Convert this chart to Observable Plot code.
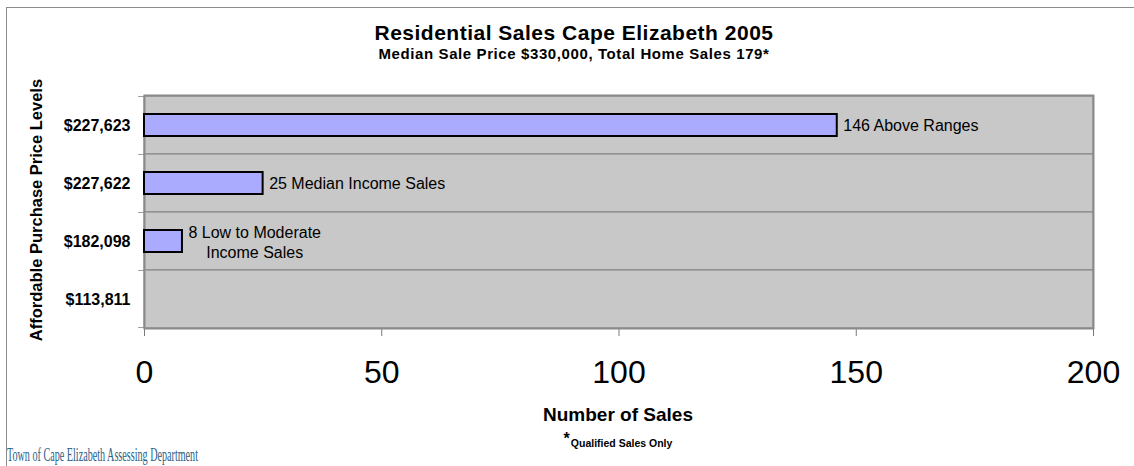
<!DOCTYPE html>
<html>
<head>
<meta charset="utf-8">
<script src="https://cdn.jsdelivr.net/npm/d3@7"></script>
<script src="https://cdn.jsdelivr.net/npm/@observablehq/plot@0.6"></script>
<style>
  body { margin: 0; background: #fff; font-family: "Liberation Sans", Arial, sans-serif; }
  #wrap { position: relative; width: 1134px; height: 466px; overflow: hidden; }
  #wrap svg { position: absolute; left: 0; top: 0; }
  #border { position: absolute; left: 6px; top: 7px; width: 1200px; height: 500px;
            border-left: 1.5px solid #8c8c8c; border-top: 1.5px solid #8c8c8c; box-sizing: border-box; }
  .t { position: absolute; white-space: nowrap; color: #000; line-height: 1; }
  #title { top: 22px; left: 0; width: 1148px; text-align: center; font-size: 21px; font-weight: bold; letter-spacing: 0.5px; }
  #subtitle { top: 45.5px; left: 0; width: 1148px; text-align: center; font-size: 15px; font-weight: bold; letter-spacing: 0.6px; }
  #ytitle { left: 36px; top: 210px; font-size: 16.5px; font-weight: bold;
            transform: translate(-50%, -50%) rotate(-90deg); }
  #xtitle { top: 405px; left: 0; width: 1236px; text-align: center; font-size: 19px; font-weight: bold; }
  #note { top: 434px; left: 0; width: 1236px; text-align: center; font-size: 10.5px; font-weight: bold; }
  #note .star { font-size: 16px; position: relative; top: -3px; margin-right: 1px; }
  #footer { left: 7px; top: 446px; font-family: "Liberation Serif", "Times New Roman", serif;
            font-size: 18px; color: #2c5f88; transform-origin: 0 0; }
  #wrap g[aria-label^="y-axis"] text { font-size: 16px; font-weight: bold; fill: #000; }
  #wrap g[aria-label^="x-axis"] text { font-size: 32px; fill: #000; }
  #wrap g[aria-label^="x-axis"] line, #wrap g[aria-label^="x-axis"] path { stroke: #7a7a7a; }
</style>
</head>
<body>
<div id="wrap">
  <div id="border"></div>
  <div class="t" id="title">Residential Sales Cape Elizabeth 2005</div>
  <div class="t" id="subtitle">Median Sale Price $330,000, Total Home Sales 179*</div>
  <div class="t" id="ytitle">Affordable Purchase Price Levels</div>
  <div class="t" id="xtitle">Number of Sales</div>
  <div class="t" id="note"><span class="star">*</span>Qualified Sales Only</div>
  <div class="t" id="footer">Town of Cape Elizabeth Assessing Department</div>
</div>
<script>
// Affordable purchase price levels, top to bottom
const priceLevels = ["$227,623", "$227,622", "$182,098", "$113,811"];
// Number of qualified sales at each level
const sales = [146, 25, 8, 0];
// Annotation beside each bar
const barLabels = ["146 Above Ranges", "25 Median Income Sales", "8 Low to Moderate\nIncome Sales", ""];
// Sales axis ticks
const xTicks = [0, 50, 100, 150, 200];

const rows = priceLevels.map((level, i) => ({level, sales: sales[i], label: barLabels[i]}));

const W = 1134, H = 466;
const margin = {top: 95, right: 41, bottom: 138, left: 144};
const band = (H - margin.top - margin.bottom) / priceLevels.length;
const xMax = xTicks[xTicks.length - 1];
const labelFont = 16;

// width of the widest line of a multi-line label, to center it beside its bar
const ctx = document.createElement("canvas").getContext("2d");
ctx.font = `${labelFont}px "Liberation Sans", Arial, sans-serif`;
const widest = s => d3.max(s.split("\n"), line => ctx.measureText(line).width);

const single = rows.filter(d => d.label && !d.label.includes("\n"));
const multi = rows.filter(d => d.label && d.label.includes("\n"));

const chart = Plot.plot({
  width: W,
  height: H,
  marginTop: margin.top,
  marginRight: margin.right,
  marginBottom: margin.bottom,
  marginLeft: margin.left,
  style: {background: "transparent", fontFamily: "'Liberation Sans', Arial, sans-serif", color: "#000"},
  x: {domain: [0, xMax], ticks: xTicks, tickFormat: d3.format("d"), tickSize: 8, tickPadding: 24, label: null},
  y: {domain: priceLevels, padding: 0, tickSize: 0, tickPadding: 14, label: null},
  marks: [
    // gray plot area, one band per price level, outlined to form the gridlines
    Plot.barX(priceLevels, {x1: 0, x2: xMax, y: d => d, fill: "#c8c8c8", stroke: "#808080", strokeWidth: 1}),
    // short ticks left of the axis at each band boundary
    Plot.barX(priceLevels, {x1: -1.25, x2: 0, y: d => d, insetBottom: band - 1, fill: "#808080"}),
    Plot.barX(priceLevels.slice(-1), {x1: -1.25, x2: 0, y: d => d, insetTop: band - 1, fill: "#808080"}),
    Plot.frame({stroke: "#8a8a8a", strokeWidth: 2}),
    // sales bars
    Plot.barX(rows.filter(d => d.sales > 0), {
      x: "sales", y: "level", fill: "#aaaaff", stroke: "#000", strokeWidth: 2,
      insetTop: 18, insetBottom: 18
    }),
    Plot.text(single, {
      x: "sales", y: "level", text: "label", textAnchor: "start", dx: 6,
      fontSize: labelFont, fill: "#000"
    }),
    Plot.text(multi, {
      x: "sales", y: "level", text: "label", textAnchor: "middle",
      dx: 6 + widest(multi.length ? multi[0].label : "") / 2, lineHeight: 1.25,
      fontSize: labelFont, fill: "#000"
    })
  ]
});
document.getElementById("wrap").appendChild(chart);

// condensed footer lettering
const footer = document.getElementById("footer");
const fw = footer.getBoundingClientRect().width;
footer.style.transform = `scaleX(${191 / fw})`;
</script>
</body>
</html>
